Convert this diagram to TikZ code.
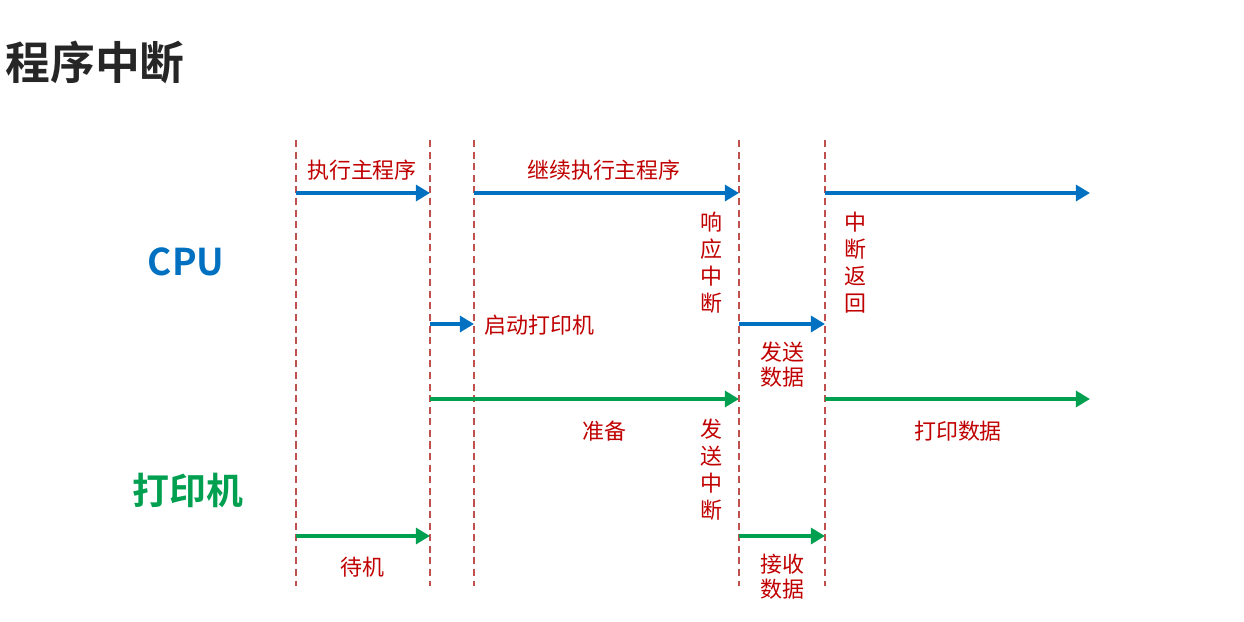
\documentclass[tikz,border=0pt]{standalone}
\usepackage{fontspec}
\setmainfont{Noto Sans CJK SC}[BoldFont={Noto Sans CJK SC Bold}]
\usetikzlibrary{arrows.meta}

\definecolor{cpublue}{HTML}{0070C0}
\definecolor{prngreen}{HTML}{00A050}
\definecolor{labelred}{HTML}{C00000}
\definecolor{dashred}{HTML}{C0504D}
\definecolor{titlegray}{HTML}{262626}

\tikzset{
    timeline/.style={dashred, line width=0.6pt, dash pattern=on 4pt off 2.6pt},
    flow/.style={line width=2.4pt, -{Triangle[length=8pt,width=9pt]}},
    cpuflow/.style={flow, cpublue},
    prnflow/.style={flow, prngreen},
    lbl/.style={labelred, inner sep=0pt, font=\fontsize{12.5}{14}\selectfont},
    vlbl/.style={lbl, align=center, font=\fontsize{12.5}{15.4}\selectfont},
    plbl/.style={lbl, align=center, font=\fontsize{12.5}{14.2}\selectfont}
}

\begin{document}
\begin{tikzpicture}[x=0.02cm, y=-0.02cm]
            \useasboundingbox (0,0) rectangle (1244,622);
            %\draw[help lines, step=50] (0,0) grid (1244,622);

            \node[titlegray, inner sep=0pt, font=\fontsize{25.5}{28}\selectfont\bfseries] (title) at (95,62) {程序中断};
            \node[cpublue, inner sep=0pt, font=\fontsize{21}{24}\selectfont\bfseries] (cpu) at (186,262) {CPU};
            \node[prngreen, inner sep=0pt, font=\fontsize{21}{24}\selectfont\bfseries] (prn) at (188,490) {打印机};

            % time marks
            \foreach \n/\x in {t1/296,t2/430,t3/474,t4/739,t5/825}
            {
                \coordinate (\n-top) at (\x,140);
                \coordinate (\n-bot) at (\x,586);
                \draw[timeline] (\n-top) -- (\n-bot);
            }
            \coordinate (tend-top) at (1090,140);

            % rows
            \coordinate (cpuA) at (0,193);
            \coordinate (cpuB) at (0,324);
            \coordinate (prnA) at (0,399);
            \coordinate (prnB) at (0,536);

            \foreach \a/\b in {t1/t2,t3/t4,t5/tend}
                \draw[cpuflow] (\a-top |- cpuA) -- (\b-top |- cpuA);
            \foreach \a/\b in {t2/t3,t4/t5}
                \draw[cpuflow] (\a-top |- cpuB) -- (\b-top |- cpuB);
            \foreach \a/\b in {t2/t4,t5/tend}
                \draw[prnflow] (\a-top |- prnA) -- (\b-top |- prnA);
            \foreach \a/\b in {t1/t2,t4/t5}
                \draw[prnflow] (\a-top |- prnB) -- (\b-top |- prnB);

            % labels
            \node[lbl] (exec) at (362,170) {执行主程序};
            \node[lbl] (cont) at (604,170) {继续执行主程序};
            \node[vlbl] (resp) at (711,263) {响\\应\\中\\断};
            \node[vlbl] (ret) at (855,263) {中\\断\\返\\回};
            \node[lbl, anchor=west] (start) at (484,325) {启动打印机};
            \node[plbl] (send) at (782,365) {发送\\数据};
            \node[lbl] (prep) at (604,431) {准备};
            \node[vlbl] (irq) at (711,470) {发\\送\\中\\断};
            \node[lbl] (print) at (958,431) {打印数据};
            \node[lbl] (idle) at (362,567) {待机};
            \node[plbl] (recv) at (782,577) {接收\\数据};
\end{tikzpicture}
\end{document}
